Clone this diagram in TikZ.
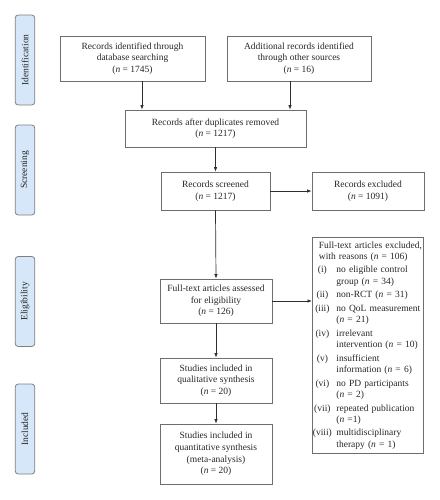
\documentclass[tikz,border=0pt]{standalone}
\usepackage{fontspec}
\setmainfont{Liberation Serif}
\usetikzlibrary{arrows.meta}
\definecolor{boxgray}{HTML}{6E6E6E}
\definecolor{stagegray}{HTML}{7F7F7F}
\definecolor{stageblue}{HTML}{D5E7F8}
\definecolor{arrowgray}{HTML}{2E2E2E}
\newcommand{\nn}{\textit{n}}
\begin{document}
\begin{tikzpicture}[x=1pt,y=-1pt,
  every node/.style={font=\fontsize{9.5}{11.6}\selectfont, text=black!85},
  box/.style={draw=boxgray, line width=0.8pt, align=center, inner sep=1pt},
  stage/.style={draw=stagegray, fill=stageblue, rounded corners=3pt, line width=0.8pt,
    rotate=90, minimum width=90pt, minimum height=19.5pt, inner sep=0pt},
  arr/.style={-{Latex[length=4.5pt,width=3.5pt]}, line width=0.7pt, draw=arrowgray}]
\useasboundingbox (0,0) rectangle (439,500);

% stage labels
\node[stage] (s1) at (25,60) {Identification};
\node[stage] (s2) at (25,170) {Screening};
\node[stage] (s3) at (25,301.5) {Eligibility};
\node[stage] (s4) at (25,429) {Included};

% boxes
\node[box, minimum width=145pt, minimum height=45pt] (A) at (132.5,58.5)
  {Records identified through\\database searching\\(\nn{} = 1745)};
\node[box, minimum width=144pt, minimum height=45pt] (B) at (299,58.5)
  {Additional records identified\\through other sources\\(\nn{} = 16)};
\node[box, minimum width=181pt, minimum height=37pt] (C) at (215.5,128.5)
  {Records after duplicates removed\\(\nn{} = 1217)};
\node[box, minimum width=109pt, minimum height=38pt] (D) at (215.5,191)
  {Records screened\\(\nn{} = 1217)};
\node[box, minimum width=112pt, minimum height=38pt] (E) at (368,191)
  {Records excluded\\(\nn{} = 1091)};
\node[box, minimum width=112pt, minimum height=44pt] (F) at (216,301)
  {Full-text articles assessed\\for eligibility\\(\nn{} = 126)};
\node[box, minimum width=112pt, minimum height=45pt] (H) at (216,380.5)
  {Studies included in\\qualitative synthesis\\(\nn{} = 20)};
\node[box, minimum width=112pt, minimum height=60pt] (I) at (216,454)
  {Studies included in\\quantitative synthesis\\(meta-analysis)\\(\nn{} = 20)};
\node[box, anchor=north west, text width=110pt, minimum height=216pt, align=left,
  inner xsep=0.5pt, font=\fontsize{9.5}{11.3}\selectfont] (G) at (312,237)
  {\begin{tabular}{@{}c@{\hspace{4.5pt}}l@{}}
   \multicolumn{2}{@{\hspace{6pt}}l@{}}{Full-text articles excluded,}\\
   \multicolumn{2}{@{\hspace{6pt}}l@{}}{with reasons (\nn{} = 106)}\\[2.3pt]
   (i) & no eligible control\\ & group (\nn{} = 34)\\[2.3pt]
   (ii) & non-RCT (\nn{} = 31)\\[2.3pt]
   (iii) & no QoL measurement\\ & (\nn{} = 21)\\[2.3pt]
   (iv) & irrelevant\\ & intervention (\nn{} = 10)\\[2.3pt]
   (v) & insufficient\\ & information (\nn{} = 6)\\[2.3pt]
   (vi) & no PD participants\\ & (\nn{} = 2)\\[2.3pt]
   (vii) & repeated publication\\ & (\nn{} =1)\\[2.3pt]
   (viii) & multidisciplinary\\ & therapy (\nn{} = 1)
   \end{tabular}};

% connectors
\draw[arr] ([xshift=9.5pt]A.south) -- ([xshift=9.5pt]A.south |- C.north);
\draw[arr] ([xshift=-9pt]B.south) -- ([xshift=-9pt]B.south |- C.north);
\draw[arr] (C.south) -- (D.north);
\draw[arr] (D.east) -- (E.west);
\draw[arr] (D.south) -- (F.north);
\draw[arr] (F.east) -- (F.east -| G.west);
\draw[arr] (F.south) -- (H.north);
\draw[arr] (H.south) -- (I.north);
\end{tikzpicture}
\end{document}
